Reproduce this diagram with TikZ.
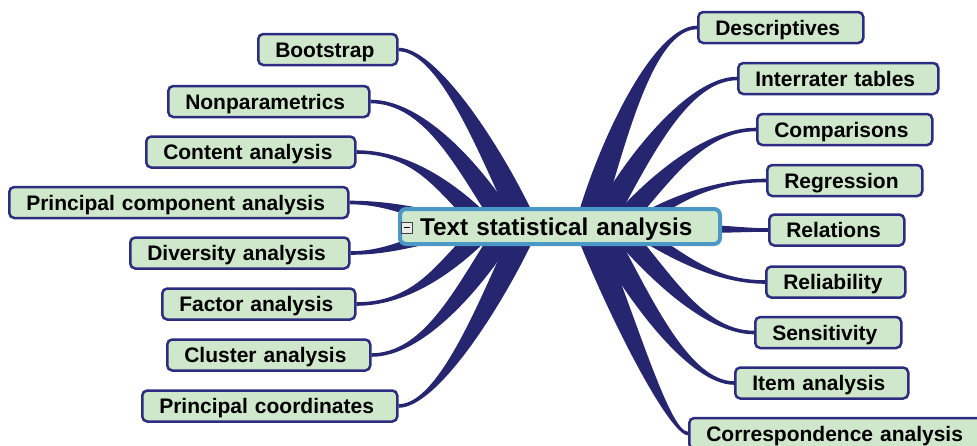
\documentclass[tikz,border=0pt]{standalone}
\usepackage{fontspec}
\setmainfont{Liberation Sans}
\usetikzlibrary{calc,backgrounds}
\definecolor{branchc}{RGB}{38,38,112}
\definecolor{leafborder}{RGB}{44,44,128}
\definecolor{leaffill}{RGB}{207,231,202}
\definecolor{rootborder}{RGB}{74,152,198}
\tikzset{
 leaf/.style={draw=leafborder, fill=leaffill, line width=2.5pt, rounded corners=5pt, anchor=west,
   minimum height=31pt, inner ysep=0pt, inner xsep=17pt, text height=15pt, text depth=0pt,
   align=left, font=\fontsize{21}{24}\selectfont\bfseries},
 rootnode/.style={draw=rootborder, fill=leaffill, line width=4pt, rounded corners=6pt, anchor=west,
   minimum height=35pt, inner ysep=0pt, inner xsep=20pt, text height=17pt, text depth=0pt,
   align=left, font=\fontsize{24.3}{28}\selectfont\bfseries},
 branchfill/.style={fill=branchc},
 togglebox/.style={draw=black!75, fill=black!8, line width=0.7pt, minimum size=11pt, inner sep=0pt},
}
% #1 root coord, #2 leaf point, #3 root control offset, #4 leaf control offset,
% #5 root half-width vector, #6 leaf half-width vector
\newcommand\branchshape[6]{%
  \fill[branchfill] ($(#1)+(#5)$) .. controls ($(#1)+(#3)+(#5)$) and ($(#2)+(#4)+(#6)$) .. ($(#2)+(#6)$)
    -- ($(#2)-(#6)$) .. controls ($(#2)+(#4)-(#6)$) and ($(#1)+(#3)-(#5)$) .. ($(#1)-(#5)$) -- cycle;}
\begin{document}
\begin{tikzpicture}[x=1pt,y=-1pt]
\useasboundingbox (0,0) rectangle (977,445);

% leaves (left)
\node[leaf, text width=105pt] (boot) at (257,49.5) {Bootstrap};
\node[leaf, text width=167pt] (nonpar) at (167,101.5) {Nonparametrics};
\node[leaf, text width=175pt] (content) at (145,152) {Content analysis};
\node[leaf, text width=305pt] (pca) at (8,202.5) {Principal component analysis};
\node[leaf, text width=185pt] (divers) at (129,253) {Diversity analysis};
\node[leaf, text width=159pt] (factor) at (161,304) {Factor analysis};
\node[leaf, text width=169pt] (cluster) at (166,355) {Cluster analysis};
\node[leaf, text width=221pt] (pcoord) at (141,406) {Principal coordinates};
% leaves (right)
\node[leaf, text width=131pt] (desc) at (697,27.5) {Descriptives};
\node[leaf, text width=166pt] (inter) at (737,78.5) {Interrater tables};
\node[leaf, text width=141pt] (comp) at (756,129.5) {Comparisons};
\node[leaf, text width=121pt] (regr) at (766,180.5) {Regression};
\node[leaf, text width=101pt] (relat) at (768,230) {Relations};
\node[leaf, text width=105pt] (reliab) at (765,282) {Reliability};
\node[leaf, text width=112pt] (sens) at (754,332.5) {Sensitivity};
\node[leaf, text width=139pt] (item) at (734,383) {Item analysis};
\node[leaf, text width=260pt] (corr) at (688,433.5) {Correspondence analysis};

% central node
\node[rootnode, text width=280pt] (center) at (398,226.5) {Text statistical analysis};
\node[togglebox] (toggle) at (407,227.5) {};
\draw[line width=1pt] ($(toggle.west)+(2.5,0)$) -- ($(toggle.east)+(-2.5,0)$);

% roots behind the central node
\coordinate (rBoot) at (522,218);
\coordinate (rNonpar) at (502,218);
\coordinate (rContent) at (478,218);
\coordinate (rPca) at (450,220);
\coordinate (rDivers) at (450,233);
\coordinate (rFactor) at (478,236);
\coordinate (rCluster) at (502,236);
\coordinate (rPcoord) at (522,236);
\coordinate (rDesc) at (590,218);
\coordinate (rInter) at (605,218);
\coordinate (rComp) at (625,218);
\coordinate (rRegr) at (648,216);
\coordinate (rRelat) at (700,229);
\coordinate (rReliab) at (648,238);
\coordinate (rSens) at (625,236);
\coordinate (rItem) at (605,236);
\coordinate (rCorr) at (590,236);

\begin{pgfonlayer}{background}
% left top
\branchshape{rBoot}{boot.east}{-30,-65}{40,0}{13,0}{0,-1.8}
\branchshape{rNonpar}{nonpar.east}{-35,-55}{52,0}{13,0}{0,-1.8}
\branchshape{rContent}{content.east}{-30,-30}{56,0}{13,0}{0,-1.8}
\branchshape{rPca}{pca.east}{-30,-4}{43,0}{0,-7}{0,-1.8}
% left bottom
\branchshape{rDivers}{divers.east}{-30,4}{42,0}{0,-7}{0,-1.8}
\branchshape{rFactor}{factor.east}{-30,30}{56,0}{13,0}{0,1.8}
\branchshape{rCluster}{cluster.east}{-35,55}{51,0}{13,0}{0,1.8}
\branchshape{rPcoord}{pcoord.east}{-30,65}{40,0}{13,0}{0,1.8}
% right top
\branchshape{rDesc}{desc.west}{25,-85}{-42,0}{-13,0}{0,-1.8}
\branchshape{rInter}{inter.west}{35,-65}{-47,0}{-13,0}{0,-1.8}
\branchshape{rComp}{comp.west}{35,-40}{-51,0}{-13,0}{0,-1.8}
\branchshape{rRegr}{regr.west}{30,-18}{-51,0}{-11,0}{0,-1.8}
\branchshape{rRelat}{relat.west}{25,0}{-23,0}{0,-4}{0,-1.8}
% right bottom
\branchshape{rReliab}{reliab.west}{30,18}{-50,0}{-11,0}{0,1.8}
\branchshape{rSens}{sens.west}{35,40}{-49,0}{-13,0}{0,1.8}
\branchshape{rItem}{item.west}{35,65}{-44,0}{-13,0}{0,1.8}
\branchshape{rCorr}{corr.west}{35,88}{-18,0}{-13,0}{0,1.8}
\end{pgfonlayer}
\end{tikzpicture}
\end{document}
